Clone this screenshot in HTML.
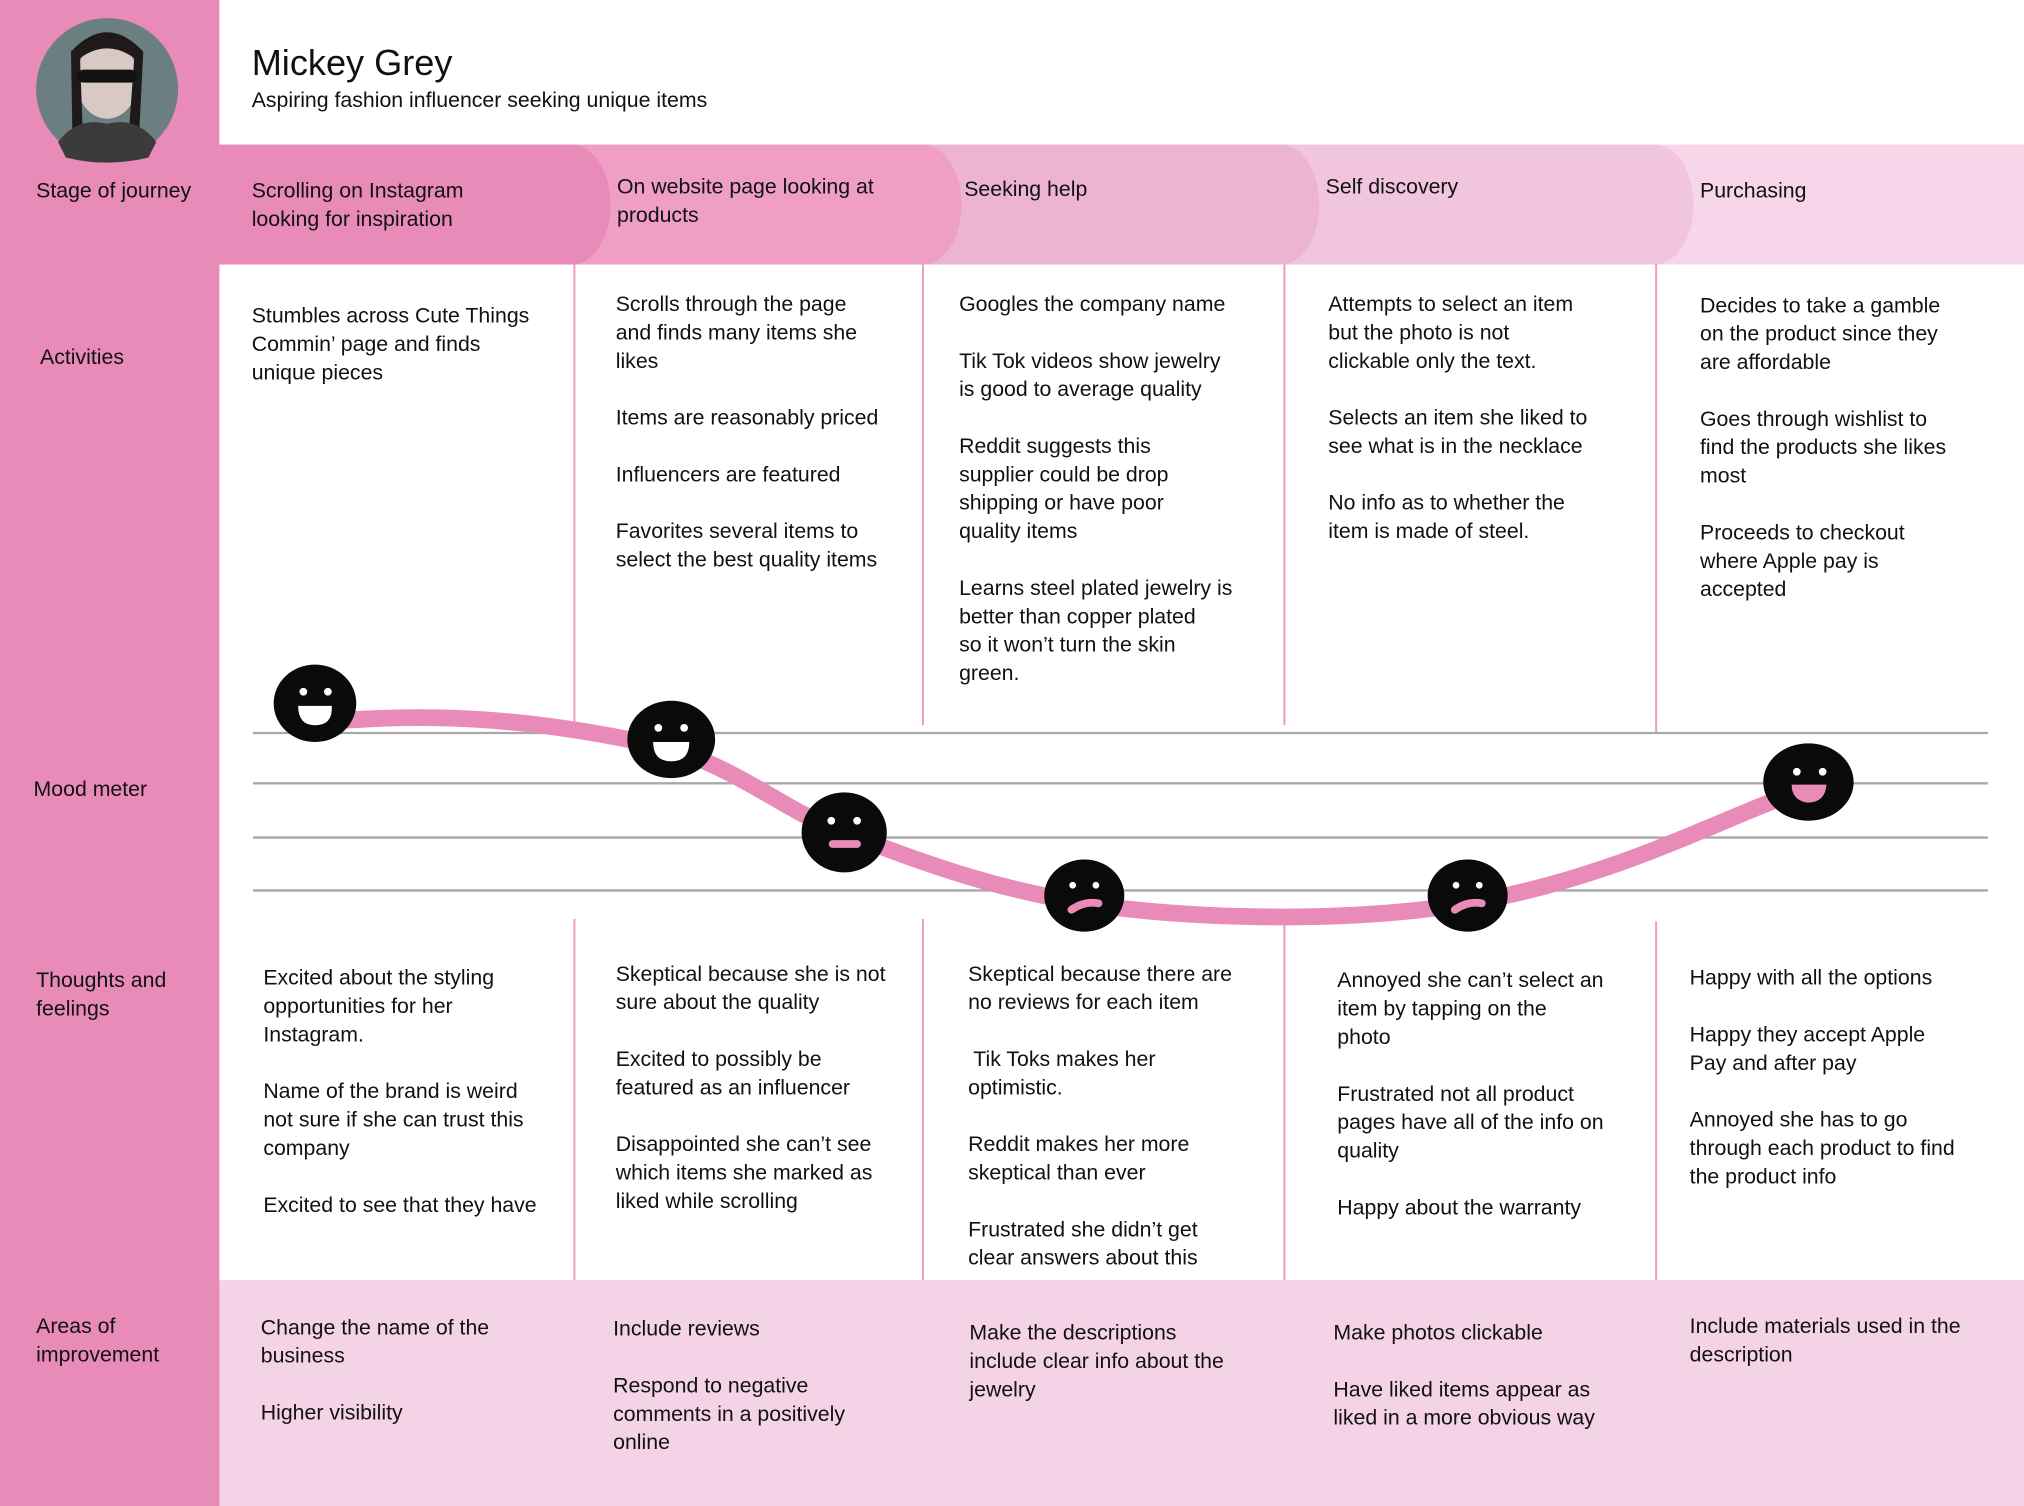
<!DOCTYPE html>
<html><head><meta charset="utf-8"><style>
html,body{margin:0;padding:0;background:#fff;}
svg{display:block;}
text{font-family:"Liberation Sans",sans-serif;font-size:16.5px;fill:#111;}
</style></head><body>
<svg width="2024" height="1506" viewBox="0 0 1568 1167" preserveAspectRatio="none" xmlns="http://www.w3.org/2000/svg">
<rect x="0" y="0" width="1568" height="1167" fill="#fff"/>
<rect x="0" y="0" width="170" height="1167" fill="#e98bb8"/>
<rect x="170" y="992" width="1398" height="175" fill="#f5d3e6"/>
<!-- stage band -->
<rect x="1280" y="112" width="288" height="93" fill="#f6d6e8"/>
<rect x="995" y="112" width="290" height="93" fill="#f0c5dd"/>
<ellipse cx="1282" cy="158.5" rx="30" ry="46.5" fill="#f0c5dd"/>
<rect x="715" y="112" width="280" height="93" fill="#edb3d2"/>
<ellipse cx="992" cy="158.5" rx="30" ry="46.5" fill="#edb3d2"/>
<rect x="445" y="112" width="270" height="93" fill="#ef9fc5"/>
<ellipse cx="715" cy="158.5" rx="30" ry="46.5" fill="#ef9fc5"/>
<rect x="170" y="112" width="275" height="93" fill="#e98bb8"/>
<ellipse cx="443" cy="158.5" rx="30" ry="46.5" fill="#e98bb8"/>
<!-- avatar -->
<circle cx="83" cy="69" r="55" fill="#6b7f80"/>
<ellipse cx="83" cy="62" rx="24" ry="30" fill="#d9c9c4"/>
<path d="M55 40 Q83 10 111 40 L108 100 L100 100 L104 45 Q83 30 62 45 L64 100 L56 100 Z" fill="#1e1a1a"/>
<rect x="60" y="54" width="46" height="10" rx="5" fill="#111"/>
<path d="M45 110 Q60 90 83 96 Q106 90 121 110 L115 122 Q83 130 51 122 Z" fill="#3b3b3b"/>
<!-- dividers -->
<g stroke="#ec9ac2" stroke-width="1.5">
<line x1="445" y1="205" x2="445" y2="562"/><line x1="715" y1="205" x2="715" y2="562"/>
<line x1="995" y1="205" x2="995" y2="562"/><line x1="1283" y1="205" x2="1283" y2="568"/>
<line x1="445" y1="712" x2="445" y2="992"/><line x1="715" y1="712" x2="715" y2="992"/>
<line x1="995" y1="712" x2="995" y2="992"/><line x1="1283" y1="714" x2="1283" y2="992"/>
</g>
<g stroke="#a8a8a8" stroke-width="1.8">
<line x1="196" y1="568" x2="1540" y2="568"/><line x1="196" y1="607" x2="1540" y2="607"/>
<line x1="196" y1="649" x2="1540" y2="649"/><line x1="196" y1="690" x2="1540" y2="690"/>
</g>
<path d="M244 560 C330 552 410 555 520 580 C580 600 610 630 654 645 C730 675 780 690 840 700 C920 712 1040 716 1137 700 C1250 680 1320 640 1401 610" fill="none" stroke="#e98bb8" stroke-width="13"/>
<!-- faces -->
<g fill="#0a0a0a">
<ellipse cx="244" cy="545" rx="32" ry="30"/>
<ellipse cx="520" cy="573" rx="34" ry="30"/>
<ellipse cx="654" cy="645" rx="33" ry="31"/>
<ellipse cx="840" cy="694" rx="31" ry="28"/>
<ellipse cx="1137" cy="694" rx="31" ry="28"/>
<ellipse cx="1401" cy="606" rx="35" ry="30"/>
</g>
<g fill="#fff">
<circle cx="235" cy="536" r="3"/><circle cx="254" cy="536" r="3"/>
<path d="M231 547 H257 Q258 562 244 562 Q231 562 231 547Z"/>
<circle cx="510" cy="564" r="3"/><circle cx="530" cy="564" r="3"/>
<path d="M506 575 H534 Q534 590 520 590 Q506 590 506 575Z"/>
<circle cx="644" cy="636" r="3"/><circle cx="664" cy="636" r="3"/>
<circle cx="831" cy="686" r="2.6"/><circle cx="849" cy="686" r="2.6"/>
<circle cx="1128" cy="686" r="2.6"/><circle cx="1146" cy="686" r="2.6"/>
<circle cx="1392" cy="598" r="3"/><circle cx="1412" cy="598" r="3"/>
</g>
<rect x="642" y="651" width="25" height="6" rx="3" fill="#e98bb8"/>
<path d="M830 705 Q840 698 851 700" stroke="#e98bb8" stroke-width="6" stroke-linecap="round" fill="none"/>
<path d="M1127 705 Q1137 698 1148 700" stroke="#e98bb8" stroke-width="6" stroke-linecap="round" fill="none"/>
<path d="M1388 608 H1415 Q1414 622 1400 622 Q1388 620 1388 608Z" fill="#e98bb8"/>
<!-- header -->
<text x="195" y="58" style="font-size:28px">Mickey Grey</text>
<text x="195" y="83">Aspiring fashion influencer seeking unique items</text>
<!-- left labels -->
<text x="28" y="153">Stage of journey</text>
<text x="31" y="282">Activities</text>
<text x="26" y="617">Mood meter</text>
<text x="28" y="765"><tspan x="28">Thoughts and</tspan><tspan x="28" dy="22">feelings</tspan></text>
<text x="28" y="1033"><tspan x="28">Areas of</tspan><tspan x="28" dy="22">improvement</tspan></text>
<!-- stages -->
<text x="195" y="153"><tspan x="195">Scrolling on Instagram</tspan><tspan x="195" dy="22">looking for inspiration</tspan></text>
<text x="478" y="150"><tspan x="478">On website page looking at</tspan><tspan x="478" dy="22">products</tspan></text>
<text x="747" y="152">Seeking help</text>
<text x="1027" y="150">Self discovery</text>
<text x="1317" y="153">Purchasing</text>
<!-- activities -->
<text y="250"><tspan x="195">Stumbles across Cute Things</tspan><tspan x="195" dy="22">Commin’ page and finds</tspan><tspan x="195" dy="22">unique pieces</tspan></text>
<text y="241"><tspan x="477">Scrolls through the page</tspan><tspan x="477" dy="22">and finds many items she</tspan><tspan x="477" dy="22">likes</tspan><tspan x="477" dy="44">Items are reasonably priced</tspan><tspan x="477" dy="44">Influencers are featured</tspan><tspan x="477" dy="44">Favorites several items to</tspan><tspan x="477" dy="22">select the best quality items</tspan></text>
<text y="241"><tspan x="743">Googles the company name</tspan><tspan x="743" dy="44">Tik Tok videos show jewelry</tspan><tspan x="743" dy="22">is good to  average quality</tspan><tspan x="743" dy="44">Reddit suggests this</tspan><tspan x="743" dy="22">supplier could be drop</tspan><tspan x="743" dy="22">shipping or have poor</tspan><tspan x="743" dy="22">quality items</tspan><tspan x="743" dy="44">Learns steel plated jewelry is</tspan><tspan x="743" dy="22">better than copper plated</tspan><tspan x="743" dy="22">so it won’t turn the skin</tspan><tspan x="743" dy="22">green.</tspan></text>
<text y="241"><tspan x="1029">Attempts to select an item</tspan><tspan x="1029" dy="22">but the photo is not</tspan><tspan x="1029" dy="22">clickable only the text.</tspan><tspan x="1029" dy="44">Selects an item she liked to</tspan><tspan x="1029" dy="22">see what is in the necklace</tspan><tspan x="1029" dy="44">No info as to whether the</tspan><tspan x="1029" dy="22">item is made of steel.</tspan></text>
<text y="242"><tspan x="1317">Decides to take a gamble</tspan><tspan x="1317" dy="22">on the product since they</tspan><tspan x="1317" dy="22">are affordable</tspan><tspan x="1317" dy="44">Goes through wishlist to</tspan><tspan x="1317" dy="22">find the products she likes</tspan><tspan x="1317" dy="22">most</tspan><tspan x="1317" dy="44">Proceeds to checkout</tspan><tspan x="1317" dy="22">where Apple pay is</tspan><tspan x="1317" dy="22">accepted</tspan></text>
<!-- thoughts -->
<text y="763"><tspan x="204">Excited about the styling</tspan><tspan x="204" dy="22">opportunities for her</tspan><tspan x="204" dy="22">Instagram.</tspan><tspan x="204" dy="44">Name of the brand is weird</tspan><tspan x="204" dy="22">not sure if she can trust this</tspan><tspan x="204" dy="22">company</tspan><tspan x="204" dy="44">Excited to see that they have</tspan></text>
<text y="760"><tspan x="477">Skeptical because she is not</tspan><tspan x="477" dy="22">sure about the quality</tspan><tspan x="477" dy="44">Excited to possibly be</tspan><tspan x="477" dy="22">featured as an influencer</tspan><tspan x="477" dy="44">Disappointed she can’t see</tspan><tspan x="477" dy="22">which items she marked as</tspan><tspan x="477" dy="22">liked while scrolling</tspan></text>
<text y="760"><tspan x="750">Skeptical because there are</tspan><tspan x="750" dy="22">no reviews for each item</tspan><tspan x="754" dy="44">Tik Toks makes her</tspan><tspan x="750" dy="22">optimistic.</tspan><tspan x="750" dy="44">Reddit makes her more</tspan><tspan x="750" dy="22">skeptical than ever</tspan><tspan x="750" dy="44">Frustrated she didn’t get</tspan><tspan x="750" dy="22">clear answers about this</tspan></text>
<text y="765"><tspan x="1036">Annoyed she can’t select an</tspan><tspan x="1036" dy="22">item by tapping on the</tspan><tspan x="1036" dy="22">photo</tspan><tspan x="1036" dy="44">Frustrated not all product</tspan><tspan x="1036" dy="22">pages have all of the info on</tspan><tspan x="1036" dy="22">quality</tspan><tspan x="1036" dy="44">Happy about the warranty</tspan></text>
<text y="763"><tspan x="1309">Happy with all the options</tspan><tspan x="1309" dy="44">Happy they accept Apple</tspan><tspan x="1309" dy="22">Pay and after pay</tspan><tspan x="1309" dy="44">Annoyed she has to go</tspan><tspan x="1309" dy="22">through each product to find</tspan><tspan x="1309" dy="22">the product info</tspan></text>
<!-- improvements -->
<text y="1034"><tspan x="202">Change the name of the</tspan><tspan x="202" dy="22">business</tspan><tspan x="202" dy="44">Higher visibility</tspan></text>
<text y="1035"><tspan x="475">Include reviews</tspan><tspan x="475" dy="44">Respond to negative</tspan><tspan x="475" dy="22">comments in a positively</tspan><tspan x="475" dy="22">online</tspan></text>
<text y="1038"><tspan x="751">Make the descriptions</tspan><tspan x="751" dy="22">include clear info about the</tspan><tspan x="751" dy="22">jewelry</tspan></text>
<text y="1038"><tspan x="1033">Make photos clickable</tspan><tspan x="1033" dy="44">Have liked items appear as</tspan><tspan x="1033" dy="22">liked in a more obvious way</tspan></text>
<text y="1033"><tspan x="1309">Include materials used in the</tspan><tspan x="1309" dy="22">description</tspan></text>
</svg>
</body></html>
